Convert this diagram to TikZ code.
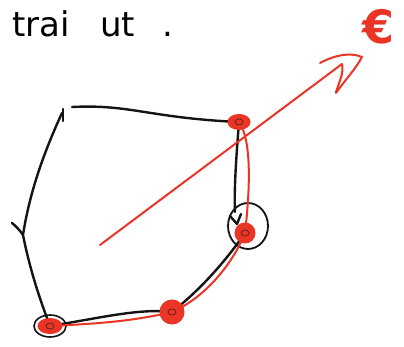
\documentclass[tikz,border=0pt]{standalone}
\usepackage{fontspec}
\setmainfont{DejaVu Sans}
\usetikzlibrary{shapes.geometric}
\definecolor{pen}{RGB}{20,20,20}
\definecolor{ink}{RGB}{234,52,38}
\begin{document}
\begin{tikzpicture}[x=1pt,y=-1pt,
  blk/.style={draw=pen,line width=2.4pt,line cap=round,line join=round},
  red/.style={draw=ink,line width=2pt,line cap=round,line join=round},
  reddot/.style={ellipse,fill=ink,draw=ink,line width=1pt,inner sep=0pt},
  hand/.style={font=\fontsize{34}{40}\selectfont,inner sep=0pt,anchor=base west}]
\useasboundingbox (0,0) rectangle (404,347);
\fill[white] (0,0) rectangle (404,347);
% title text
\node[hand] (w1) at (12,37) {trai};
\node[hand] (w2) at (100,37) {ut};
\node[hand] (w3) at (162,37) {.};
% euro sign
\node[text=ink,font=\fontsize{46}{50}\selectfont\bfseries,inner sep=0pt] (eur) at (378,27) {€};
% corners
\coordinate (tl) at (72,107);
\coordinate (tl2) at (62,113);
\coordinate (lm) at (23,235);
\coordinate (bl) at (50,326);
\coordinate (bm) at (172,312);
\coordinate (rm) at (245,233);
\coordinate (tr) at (239,122);
% black polygon
\draw[blk] (tl) .. controls (130,104) and (150,118) .. (tr);
\draw[blk] (tl2) .. controls (45,150) and (30,190) .. (lm) .. controls (30,270) and (40,300) .. (bl);
\draw[blk] (63,109) -- (63,121);
\draw[blk] (12,223) .. controls (18,228) and (21,232) .. (lm);
\draw[blk] (bl) .. controls (100,318) and (140,308) .. (bm);
\draw[blk] (bm) .. controls (200,290) and (225,262) .. (rm);
\draw[blk] (tr) .. controls (236,160) and (234,190) .. (235,212);
\draw[blk] (230,216) -- (237,224) -- (241,214);
\draw[blk,line width=1.8pt] (248,226) ellipse [x radius=20, y radius=23];
\draw[blk,line width=1.6pt] (bl) ellipse [x radius=16, y radius=11];
% red path along polygon
\draw[red] (tr) .. controls (252,140) and (250,190) .. (rm);
\draw[red] (rm) .. controls (230,270) and (200,300) .. (bm);
\draw[red] (bm) .. controls (130,322) and (90,324) .. (bl);
% red arrow
\coordinate (as) at (100,245);
\coordinate (ae) at (342,64);
\draw[red] (as) -- (ae) .. controls (344,72) and (340,80) .. (336,92);
\draw[red] (320,63) .. controls (335,55) and (350,52) .. (362,57) .. controls (355,70) and (345,80) .. (336,93);
% red dots
\node[reddot,minimum width=22pt,minimum height=15pt] (d1) at (tr) {};
\node[reddot,minimum width=24pt,minimum height=24pt] (d2) at (bm) {};
\node[reddot,minimum width=20pt,minimum height=20pt] (d3) at (rm) {};
\node[reddot,minimum width=24pt,minimum height=15pt] (d4) at (bl) {};
\foreach \d in {d1,d2,d3,d4}{\draw[pen!60!ink,line width=0.8pt] (\d.center) ellipse [x radius=4, y radius=3];}
\end{tikzpicture}
\end{document}
